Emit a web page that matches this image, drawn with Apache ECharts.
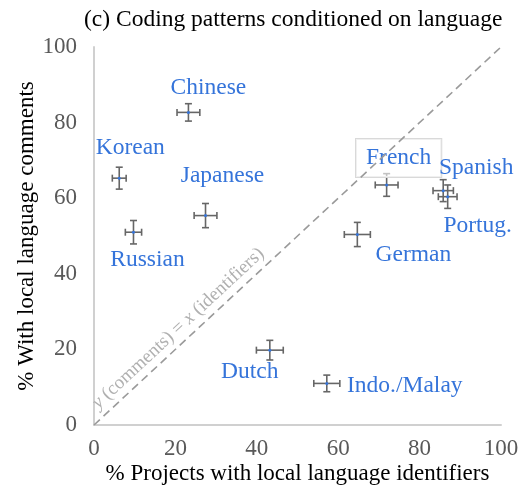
<!DOCTYPE html>
<html>
<head>
<meta charset="utf-8">
<script src="https://cdn.jsdelivr.net/npm/echarts@6/dist/echarts.min.js"></script>
<style>html,body{margin:0;padding:0;background:#fff}#c{width:526px;height:491px}</style>
</head>
<body>
<div id="c"></div>
<script>
// Data
const languages = ['Chinese','Korean','Japanese','Russian','French','Spanish','Portug.','German','Dutch','Indo./Malay'];
const identifiersPct = [23.2, 6.2, 27.4, 9.7, 71.9, 85.8, 86.9, 64.7, 43.2, 57.2];
const commentsPct    = [82.7, 65.3, 55.4, 51.0, 63.5, 62.0, 60.4, 50.4, 19.8, 11.0];
const identifiersErr = [2.8, 1.7, 2.8, 2.0, 2.8, 2.5, 2.3, 3.2, 3.3, 3.2];
const commentsErr    = [2.3, 2.9, 3.2, 3.1, 3.0, 2.9, 3.1, 3.2, 2.6, 2.2];
const axisTicks = [0, 20, 40, 60, 80, 100];

// Label placement (style only)
const labelOffsets = {
  'Chinese':[20,-25], 'Korean':[11,-30], 'Japanese':[17,-40], 'Russian':[14,28],
  'French':[12,-27], 'Spanish':[33,-23], 'Portug.':[30,29], 'German':[56,20],
  'Dutch':[-20,22], 'Indo./Malay':[78,2]
};

const FONT = '"Liberation Serif","DejaVu Serif",serif';
const BLUE = '#3574da';

const errData = languages.map((n,i)=>[identifiersPct[i], commentsPct[i], identifiersErr[i], commentsErr[i]]);
const ptData = languages.map((n,i)=>{
  const o = labelOffsets[n];
  const lab = {show:true, position:'inside', offset:o, formatter:n, color:BLUE, fontSize:23.5, fontFamily:FONT};
  if (n==='French') { Object.assign(lab,{borderColor:'#d9d9d9', borderWidth:1, padding:[7,10,7,10], backgroundColor:'rgba(255,255,255,0.6)'}); }
  return {name:n, value:[identifiersPct[i], commentsPct[i]], label:lab};
});

const chart = echarts.init(document.getElementById('c'), null, {renderer:'canvas'});
chart.setOption({
  animation:false,
  backgroundColor:'#fff',
  title:{text:'(c) Coding patterns conditioned on language', left:79, top:3,
    textStyle:{fontFamily:FONT, fontSize:23.5, fontWeight:'normal', color:'#000'}},
  grid:{left:94, right:25, top:47, bottom:66, containLabel:false, outerBoundsMode:'none'},
  xAxis:{type:'value', min:0, max:100, interval:20,
    name:'% Projects with local language identifiers', nameLocation:'middle', nameGap:37, nameMoveOverlap:false,
    nameTextStyle:{fontFamily:FONT, fontSize:23, color:'#000'},
    axisLine:{show:true, lineStyle:{color:'#d0d0d0', width:2}}, axisTick:{show:false}, splitLine:{show:false},
    axisLabel:{fontFamily:FONT, fontSize:23, color:'#595959', margin:12, formatter:v=>axisTicks.includes(v)?String(v):''}},
  yAxis:{type:'value', min:0, max:100, interval:20,
    name:'% With local language comments', nameLocation:'middle', nameGap:56, nameMoveOverlap:false,
    nameTextStyle:{fontFamily:FONT, fontSize:23, color:'#000'},
    axisLine:{show:true, lineStyle:{color:'#d0d0d0', width:2}}, axisTick:{show:false}, splitLine:{show:false},
    axisLabel:{fontFamily:FONT, fontSize:23, color:'#595959', margin:17, formatter:v=>axisTicks.includes(v)?String(v):''}},
  series:[
    {type:'line', data:[], silent:true,
     markLine:{symbol:['none','none'], silent:true,
       lineStyle:{type:[8,5], color:'#9a9a9a', width:1.6},
       label:{show:true, position:'insideStartTop', distance:[14,4],
         formatter:'{i|y} (comments) = {i|x} (identifiers)',
         color:'#b0b0b0', fontFamily:FONT, fontSize:19,
         rich:{i:{fontStyle:'italic', color:'#b0b0b0', fontFamily:FONT, fontSize:19}}},
       data:[[{coord:[0,0]},{coord:[100,100]}]]}},
    {type:'custom', data:errData, z:3,
     renderItem:function(params, api){
       const x=api.value(0), y=api.value(1), ex=api.value(2), ey=api.value(3);
       const l=api.coord([x-ex,y]), r=api.coord([x+ex,y]);
       const t=api.coord([x,y+ey]), b=api.coord([x,y-ey]);
       const c=3.5;
       const st={stroke:'#666', lineWidth:1.6};
       return {type:'group', children:[
         {type:'line', shape:{x1:l[0],y1:l[1],x2:r[0],y2:r[1]}, style:st},
         {type:'line', shape:{x1:t[0],y1:t[1],x2:b[0],y2:b[1]}, style:st},
         {type:'line', shape:{x1:l[0],y1:l[1]-c,x2:l[0],y2:l[1]+c}, style:st},
         {type:'line', shape:{x1:r[0],y1:r[1]-c,x2:r[0],y2:r[1]+c}, style:st},
         {type:'line', shape:{x1:t[0]-c,y1:t[1],x2:t[0]+c,y2:t[1]}, style:st},
         {type:'line', shape:{x1:b[0]-c,y1:b[1],x2:b[0]+c,y2:b[1]}, style:st}
       ]};
     }},
    {type:'scatter', data:ptData, symbolSize:3, z:4, itemStyle:{color:BLUE, opacity:1}}
  ]
});
</script>
</body>
</html>
